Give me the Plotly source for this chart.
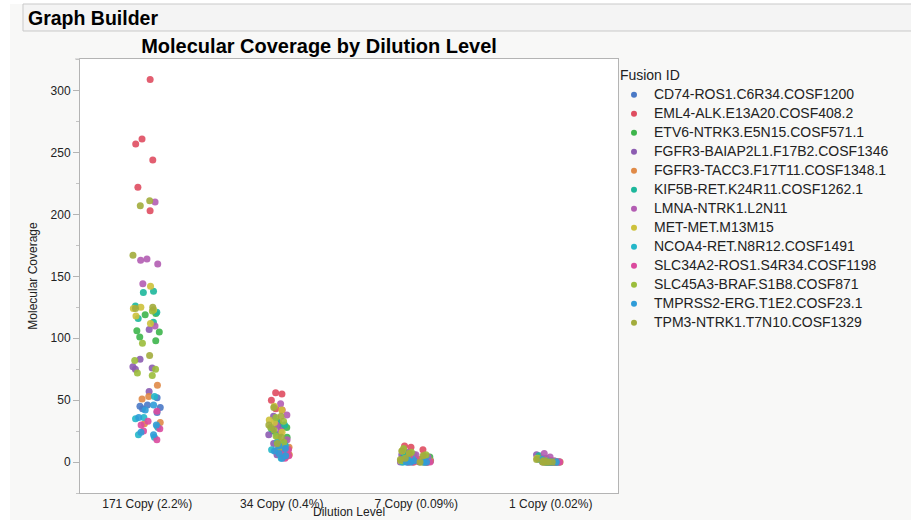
import plotly.graph_objects as go

# ---------------- data ----------------
dilution_levels = ["171 Copy (2.2%)", "34 Copy (0.4%)", "7 Copy (0.09%)", "1 Copy (0.02%)"]

fusion_ids = [
    "CD74-ROS1.C6R34.COSF1200",
    "EML4-ALK.E13A20.COSF408.2",
    "ETV6-NTRK3.E5N15.COSF571.1",
    "FGFR3-BAIAP2L1.F17B2.COSF1346",
    "FGFR3-TACC3.F17T11.COSF1348.1",
    "KIF5B-RET.K24R11.COSF1262.1",
    "LMNA-NTRK1.L2N11",
    "MET-MET.M13M15",
    "NCOA4-RET.N8R12.COSF1491",
    "SLC34A2-ROS1.S4R34.COSF1198",
    "SLC45A3-BRAF.S1B8.COSF871",
    "TMPRSS2-ERG.T1E2.COSF23.1",
    "TPM3-NTRK1.T7N10.COSF1329",
]

fusion_colors = [
    "#4a79c6", "#df4d60", "#3db54b", "#8c5cb1", "#e08a47", "#1db79b", "#b35db3",
    "#cdc13b", "#24b7c9", "#db4a9e", "#9bbd3b", "#2f9cd8", "#a2ac3c",
]

# Molecular coverage, one list of replicates per fusion (same order as fusion_ids)
cov_171 = [
    [52, 46, 45, 44, 43, 40],
    [309, 261, 257, 244, 222, 203],
    [120, 119, 106, 105, 101, 98],
    [107, 83, 77, 76, 75, 57],
    [62, 53, 51, 32, 31, 29],
    [138, 137, 126, 121, 116, 113],
    [210, 164, 163, 160, 144, 110],
    [142, 125, 124, 123, 118, 112],
    [53, 36, 35, 28, 22, 20],
    [41, 33, 30, 27, 25, 18],
    [96, 82, 75, 72, 70, 122],
    [46, 42, 36, 30, 24, 22],
    [211, 207, 167, 125, 124, 86],
]
cov_34 = [
    [14, 11, 9, 8, 6, 4],
    [56, 55, 50, 43, 42, 32],
    [30, 28, 25, 22, 20, 14],
    [37, 28, 22, 15, 10, 6],
    [15, 12, 10, 8, 6, 4],
    [33, 30, 27, 22, 16, 10],
    [47, 38, 30, 25, 18, 10],
    [45, 42, 34, 32, 24, 19],
    [16, 13, 10, 8, 5, 3],
    [12, 10, 8, 6, 5, 3],
    [36, 33, 28, 21, 16, 12],
    [13, 11, 9, 7, 5, 3],
    [44, 37, 30, 26, 20, 15],
]
cov_7 = [
    [3, 2, 1, 0, 0, 0],
    [13, 12, 10, 7, 4, 2],
    [8, 6, 4, 2, 1, 0],
    [6, 4, 2, 1, 0, 0],
    [4, 2, 1, 0, 0, 0],
    [7, 5, 4, 2, 0, 0],
    [8, 6, 4, 2, 1, 0],
    [9, 7, 5, 3, 1, 0],
    [3, 2, 1, 0, 0, 0],
    [3, 1, 0, 0, 0, 0],
    [11, 8, 6, 3, 1, 0],
    [2, 1, 0, 0, 0, 0],
    [9, 7, 5, 3, 2, 0],
]
cov_1 = [
    [2, 1, 0, 0, 0, 0],
    [3, 1, 0, 0, 0, 0],
    [3, 1, 0, 0, 0, 0],
    [6, 3, 1, 0, 0, 0],
    [2, 0, 0, 0, 0, 0],
    [5, 3, 1, 0, 0, 0],
    [7, 4, 1, 0, 0, 0],
    [3, 1, 0, 0, 0, 0],
    [2, 1, 0, 0, 0, 0],
    [2, 1, 0, 0, 0, 0],
    [3, 1, 0, 0, 0, 0],
    [2, 0, 0, 0, 0, 0],
    [2, 1, 0, 0, 0, 0],
]
coverage_by_level = [cov_171, cov_34, cov_7, cov_1]

y_tick_values = [0, 50, 100, 150, 200, 250, 300]

# ---------------- style ----------------
# per-trace point placement inside the category (breaks up identical jitter patterns)
trace_pointpos = [0.10, -0.08, 0.04, -0.13, 0.13, -0.02, 0.07, -0.10, 0.0, 0.11, -0.05, 0.02, -0.12]
trace_jitter = [0.38, 0.32, 0.42, 0.36, 0.34, 0.40, 0.32, 0.38, 0.42, 0.35, 0.39, 0.33, 0.37]

W, H = 911, 520
PL, PR, PT, PB = 80, 618, 59, 493  # plot area in pixels


def px2x(px):
    return (px - PL) / (PR - PL)


def px2y(py):
    return (PB - py) / (PB - PT)


FONT = "Liberation Sans, Arial, Helvetica, sans-serif"

fig = go.Figure()

for i, fid in enumerate(fusion_ids):
    xs, ys = [], []
    for lvl, cov in zip(dilution_levels, coverage_by_level):
        xs += [lvl] * len(cov[i])
        ys += cov[i]
    fig.add_trace(go.Box(
        x=xs, y=ys, name=fid,
        boxpoints="all", jitter=trace_jitter[i], pointpos=trace_pointpos[i],
        fillcolor="rgba(0,0,0,0)",
        line=dict(width=0, color="rgba(0,0,0,0)"),
        marker=dict(color=fusion_colors[i], size=7, opacity=0.9),
        showlegend=False, hoveron="points",
    ))

# legend entries
for i, fid in enumerate(fusion_ids):
    fig.add_trace(go.Scatter(
        x=[None], y=[None], mode="markers",
        marker=dict(color=fusion_colors[i], size=6),
        name=f'<span style="font-size:14px">{fid}</span>',
        showlegend=True,
    ))

shapes = [
    # white strip at far left
    dict(type="rect", xref="paper", yref="paper",
         x0=px2x(0), x1=px2x(10), y0=px2y(H), y1=px2y(0),
         fillcolor="white", line=dict(width=0), layer="below"),
    # white strip at top
    dict(type="rect", xref="paper", yref="paper",
         x0=px2x(0), x1=px2x(W), y0=px2y(4), y1=px2y(0),
         fillcolor="white", line=dict(width=0), layer="below"),
    # header bar
    dict(type="rect", xref="paper", yref="paper",
         x0=px2x(23), x1=px2x(916), y0=px2y(31), y1=px2y(4),
         fillcolor="#f4f4f4", line=dict(width=1, color="#c9c9c9"), layer="below"),
    # line under title
    dict(type="line", xref="paper", yref="paper",
         x0=px2x(75), x1=px2x(PL), y0=1, y1=1,
         line=dict(width=1, color="#c4c4c4")),
]

fig.update_layout(
    width=W, height=H,
    margin=dict(l=PL, r=W - PR, t=PT, b=H - PB, autoexpand=False),
    paper_bgcolor="#f8f8f7",
    plot_bgcolor="white",
    boxmode="overlay",
    font=dict(family=FONT, size=12, color="#222"),
    title=dict(
        text="<b>Molecular Coverage by Dilution Level</b>",
        font=dict(family=FONT, size=20, color="black"),
        xref="paper", x=px2x(319), xanchor="center",
        yref="container", y=1 - 46 / H, yanchor="middle",
    ),
    annotations=[
        dict(
            text="<b>Graph Builder</b>", xref="paper", yref="paper",
            x=px2x(26), y=px2y(17.5), xanchor="left", yanchor="middle",
            showarrow=False, font=dict(family=FONT, size=19.5, color="black"),
        ),
        # x-axis title
        dict(
            text="Dilution Level", xref="paper", yref="paper",
            x=0.5, y=px2y(520), xanchor="center", yanchor="bottom",
            showarrow=False, borderpad=0,
            font=dict(family=FONT, size=12, color="#222"),
        ),
    ],
    shapes=shapes,
    legend=dict(
        title=dict(text="\u00a0Fusion ID", font=dict(size=14, color="#222")),
        font=dict(family=FONT, size=12, color="#222"),
        x=px2x(614), xanchor="left",
        y=px2y(62), yanchor="top",
        bgcolor="rgba(0,0,0,0)", itemsizing="trace",
    ),
    xaxis=dict(
        type="category", categoryorder="array", categoryarray=dilution_levels,
        range=[-0.5, 3.5],
        showline=True, linecolor="#b4b4b4", linewidth=1, mirror=True,
        showgrid=False, zeroline=False, ticks="",
        tickfont=dict(size=12, color="#222"),
        automargin=False,
    ),
    yaxis=dict(
        range=[-25, 325.6],
        tickvals=y_tick_values,
        showline=True, linecolor="#b4b4b4", linewidth=1, mirror=True,
        showgrid=False, zeroline=False,
        ticks="outside", ticklen=6, tickcolor="#b4b4b4",
        minor=dict(dtick=25, ticks="outside", ticklen=3, tickcolor="#c4c4c4"),
        tickfont=dict(size=12, color="#222"),
        title=dict(text="Molecular Coverage", font=dict(size=12, color="#222"), standoff=10),
        automargin=False,
    ),
)

fig.write_html(
    "out.html",
    config={"displayModeBar": False},
    post_script="document.body.style.margin='0';document.body.style.overflow='hidden';",
)
